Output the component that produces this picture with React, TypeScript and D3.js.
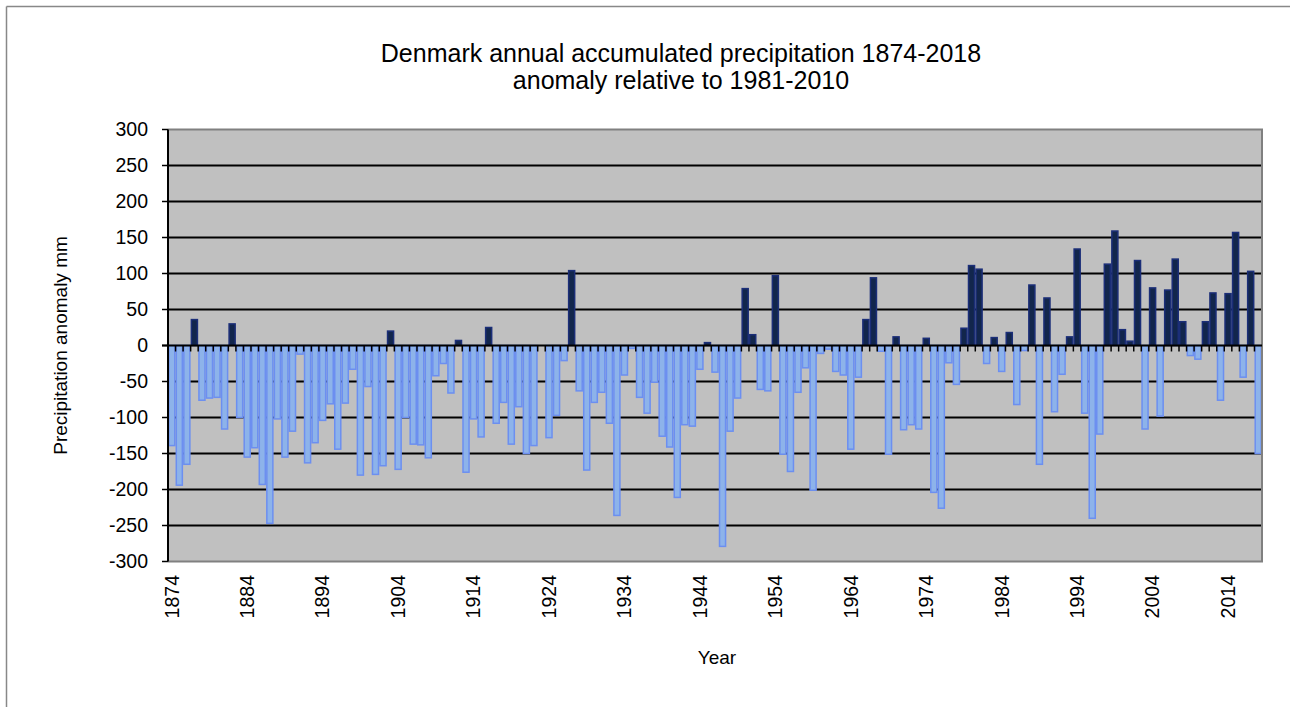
import React from "react";
import * as d3 from "d3";

const titleLines = [
  "Denmark annual accumulated precipitation 1874-2018",
  "anomaly relative to 1981-2010",
];
const yAxisTitle = "Precipitation anomaly mm";
const xAxisTitle = "Year";

const years = [
  1874, 1875, 1876, 1877, 1878, 1879, 1880, 1881, 1882, 1883,
  1884, 1885, 1886, 1887, 1888, 1889, 1890, 1891, 1892, 1893,
  1894, 1895, 1896, 1897, 1898, 1899, 1900, 1901, 1902, 1903,
  1904, 1905, 1906, 1907, 1908, 1909, 1910, 1911, 1912, 1913,
  1914, 1915, 1916, 1917, 1918, 1919, 1920, 1921, 1922, 1923,
  1924, 1925, 1926, 1927, 1928, 1929, 1930, 1931, 1932, 1933,
  1934, 1935, 1936, 1937, 1938, 1939, 1940, 1941, 1942, 1943,
  1944, 1945, 1946, 1947, 1948, 1949, 1950, 1951, 1952, 1953,
  1954, 1955, 1956, 1957, 1958, 1959, 1960, 1961, 1962, 1963,
  1964, 1965, 1966, 1967, 1968, 1969, 1970, 1971, 1972, 1973,
  1974, 1975, 1976, 1977, 1978, 1979, 1980, 1981, 1982, 1983,
  1984, 1985, 1986, 1987, 1988, 1989, 1990, 1991, 1992, 1993,
  1994, 1995, 1996, 1997, 1998, 1999, 2000, 2001, 2002, 2003,
  2004, 2005, 2006, 2007, 2008, 2009, 2010, 2011, 2012, 2013,
  2014, 2015, 2016, 2017, 2018,
];

const anomalies = [
  -139, -194, -165, 36, -76, -73, -72, -116, 30, -100,
  -155, -142, -193, -247, -102, -155, -119, -12, -163, -135,
  -104, -81, -144, -80, -33, -180, -57, -179, -167, 20,
  -172, -100, -137, -138, -156, -42, -25, -66, 7, -176,
  -102, -127, 25, -108, -79, -137, -85, -150, -139, 0,
  -128, -97, -21, 104, -63, -173, -79, -65, -108, -236,
  -41, -4, -72, -94, -51, -126, -141, -211, -110, -112,
  -33, 4, -37, -279, -119, -73, 79, 15, -61, -63,
  97, -151, -175, -65, -31, -201, -11, -5, -36, -41,
  -144, -44, 36, 94, -8, -151, 12, -117, -110, -116,
  10, -204, -226, -24, -54, 24, 111, 106, -25, 11,
  -36, 18, -82, -7, 84, -165, 66, -92, -40, 12,
  134, -94, -240, -123, 113, 159, 22, 6, 118, -116,
  80, -98, 77, 120, 33, -14, -19, 33, 73, -76,
  72, 157, -44, 103, -150,
];

const xTickYears = [1874, 1884, 1894, 1904, 1914, 1924, 1934, 1944, 1954, 1964, 1974, 1984, 1994, 2004, 2014];
const yTicks = [-300, -250, -200, -150, -100, -50, 0, 50, 100, 150, 200, 250, 300];

const W = 1290;
const H = 707;
const PL = 168;
const PR = 1262;
const PT = 129.5;
const PB = 561.5;
const FONT = "Arial, 'Liberation Sans', Helvetica, sans-serif";

export default function App() {
  const x = d3.scaleBand<number>().domain(years).range([PL, PR]).padding(0);
  const y = d3.scaleLinear().domain([-300, 300]).range([PB, PT]);
  const bw = x.bandwidth();
  const y0 = y(0);

  return (
    <svg
      width={W}
      height={H}
      style={{ position: "absolute", left: 0, top: 0, background: "#fff" }}
      fontFamily={FONT}
    >
      {/* outer border */}
      <line x1={6.5} y1={6.5} x2={W} y2={6.5} stroke="#888" strokeWidth={1.5} />
      <line x1={6.5} y1={6.5} x2={6.5} y2={H} stroke="#888" strokeWidth={1.5} />

      {/* title */}
      {titleLines.map((t, i) => (
        <text key={i} x={681} y={62 + i * 27} textAnchor="middle" fontSize={25} fill="#000">
          {t}
        </text>
      ))}

      {/* plot background */}
      <rect x={PL} y={PT} width={PR - PL} height={PB - PT} fill="#C0C0C0" />

      {/* gridlines */}
      {yTicks
        .filter((v) => v !== 300 && v !== -300 && v !== 0)
        .map((v) => (
          <line key={v} x1={PL} x2={PR} y1={y(v)} y2={y(v)} stroke="#000" strokeWidth={2} />
        ))}

      {/* bars */}
      {years.map((yr, i) => {
        const v = anomalies[i];
        if (v === 0) return null;
        const top = y(Math.max(v, 0));
        const bot = y(Math.min(v, 0));
        const pos = v > 0;
        return (
          <rect
            key={yr}
            x={(x(yr) as number) + 0.75}
            y={top}
            width={bw - 1.5}
            height={bot - top}
            fill={pos ? "#12264C" : "#8DB3EA"}
            stroke={pos ? "#1B2E78" : "#6C8FF0"}
            strokeWidth={1.5}
          />
        );
      })}

      {/* plot border (top/right/bottom) */}
      <path
        d={`M${PL},${PT}H${PR}V${PB}H${PL}`}
        fill="none"
        stroke="#808080"
        strokeWidth={2}
      />

      {/* zero axis line with category ticks */}
      <line x1={PL - 6} x2={PR} y1={y0} y2={y0} stroke="#000" strokeWidth={2} />
      {years.map((yr) => (
        <line
          key={"t" + yr}
          x1={(x(yr) as number)}
          x2={(x(yr) as number)}
          y1={y0}
          y2={y0 + 6}
          stroke="#000"
          strokeWidth={1.5}
        />
      ))}

      {/* y axis */}
      <line x1={PL} x2={PL} y1={PT} y2={PB} stroke="#000" strokeWidth={2} />
      {yTicks.map((v) => (
        <g key={"y" + v}>
          <line x1={PL - 6} x2={PL} y1={y(v)} y2={y(v)} stroke="#000" strokeWidth={1.5} />
          <text x={148} y={y(v)} dy="0.35em" textAnchor="end" fontSize={19.5} fill="#000">
            {v}
          </text>
        </g>
      ))}

      {/* x tick labels */}
      {xTickYears.map((yr) => {
        const cx = (x(yr) as number) + bw / 2;
        return (
          <text
            key={"x" + yr}
            transform={`translate(${cx},575) rotate(-90)`}
            dy="0.35em"
            textAnchor="end"
            fontSize={19.5}
            fill="#000"
          >
            {yr}
          </text>
        );
      })}

      {/* axis titles */}
      <text
        transform={`translate(60,${(PT + PB) / 2}) rotate(-90)`}
        dy="0.35em"
        textAnchor="middle"
        fontSize={19}
        fill="#000"
      >
        {yAxisTitle}
      </text>
      <text x={717} y={664} textAnchor="middle" fontSize={19} fill="#000">
        {xAxisTitle}
      </text>
    </svg>
  );
}
